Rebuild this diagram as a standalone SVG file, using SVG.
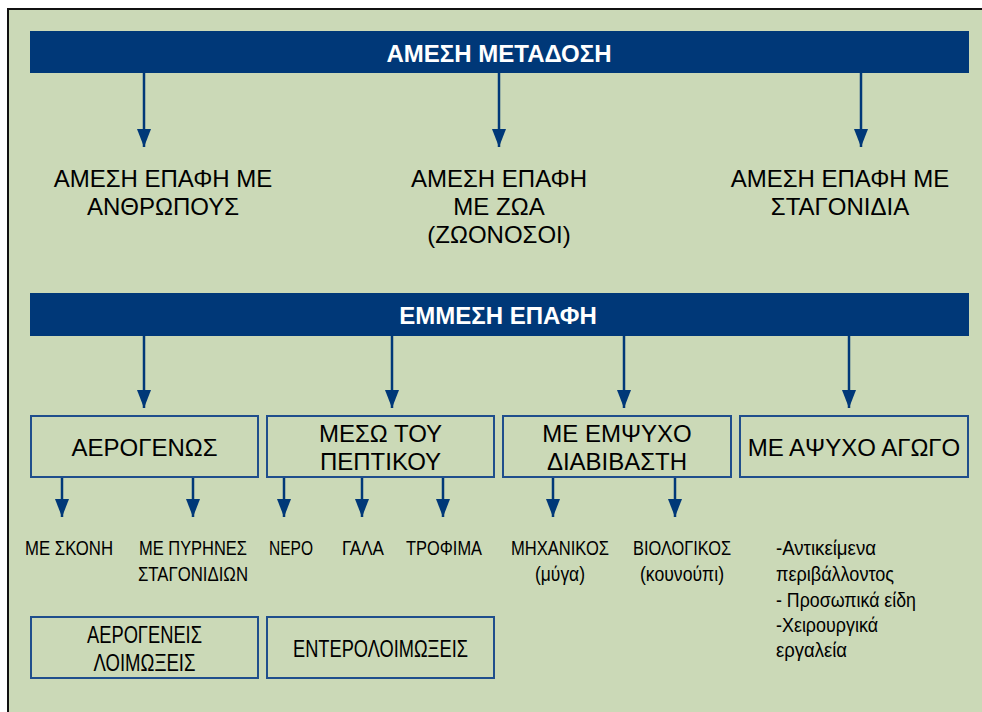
<svg xmlns="http://www.w3.org/2000/svg" width="982" height="712" viewBox="0 0 982 712">
  <defs>
    <marker id="ah" markerUnits="userSpaceOnUse" markerWidth="18" markerHeight="14" refX="18" refY="7" orient="auto" viewBox="0 0 18 14">
      <path d="M0,0 L18,7 L0,14 z" fill="#003878"/>
    </marker>
  </defs>
  <style>
    .bg { fill: #CBD9B7; stroke: #111; stroke-width: 2; }
    .bar { fill: #003878; }
    .title { font-family: "Liberation Sans", Arial, sans-serif; font-weight: bold; font-size: 24px; fill: #fff; text-anchor: middle; }
    .t24 { font-family: "Liberation Sans", Arial, sans-serif; font-size: 24px; fill: #000; text-anchor: middle; }
    .box { fill: none; stroke: #1F4E8C; stroke-width: 2; }
    .n20 { font-family: "Liberation Sans", Arial, sans-serif; font-size: 21px; fill: #000; text-anchor: middle; }
    .l20 { font-family: "Liberation Sans", Arial, sans-serif; font-size: 21px; fill: #000; text-anchor: start; }
    .n22 { font-family: "Liberation Sans", Arial, sans-serif; font-size: 23px; fill: #000; text-anchor: middle; }
    .conn line { stroke: #003878; stroke-width: 2.5; marker-end: url(#ah); }
  </style>
  <rect x="0" y="0" width="982" height="712" fill="#fff"/>
  <rect class="bg" x="8" y="9" width="990" height="720"/>

  <g id="connectors" class="conn">
    <line x1="144" y1="73" x2="144" y2="147"/>
    <line x1="499" y1="73" x2="499" y2="147"/>
    <line x1="861" y1="73" x2="861" y2="147"/>
    <line x1="144" y1="336" x2="144" y2="408"/>
    <line x1="392" y1="336" x2="392" y2="408"/>
    <line x1="624" y1="336" x2="624" y2="408"/>
    <line x1="849" y1="336" x2="849" y2="408"/>
    <line x1="62" y1="477" x2="62" y2="517"/>
    <line x1="193" y1="477" x2="193" y2="517"/>
    <line x1="284" y1="477" x2="284" y2="517"/>
    <line x1="362" y1="477" x2="362" y2="517"/>
    <line x1="443" y1="477" x2="443" y2="517"/>
    <line x1="553" y1="477" x2="553" y2="517"/>
    <line x1="675" y1="477" x2="675" y2="517"/>
  </g>

  <g id="amesi-metadosi">
    <rect class="bar" x="30" y="31" width="939" height="42"/>
    <text class="title" x="499" y="62">ΑΜΕΣΗ ΜΕΤΑΔΟΣΗ</text>
  </g>
  <g id="epafi-anthropous">
    <text class="t24" x="163" y="187">ΑΜΕΣΗ ΕΠΑΦΗ ΜΕ</text>
    <text class="t24" x="163" y="215">ΑΝΘΡΩΠΟΥΣ</text>
  </g>
  <g id="epafi-zoa">
    <text class="t24" x="499" y="187">ΑΜΕΣΗ ΕΠΑΦΗ</text>
    <text class="t24" x="499" y="215">ΜΕ ΖΩΑ</text>
    <text class="t24" x="499" y="243">(ΖΩΟΝΟΣΟΙ)</text>
  </g>
  <g id="epafi-stagonidia">
    <text class="t24" x="840" y="187">ΑΜΕΣΗ ΕΠΑΦΗ ΜΕ</text>
    <text class="t24" x="840" y="215">ΣΤΑΓΟΝΙΔΙΑ</text>
  </g>

  <g id="emmesi-epafi">
    <rect class="bar" x="30" y="293" width="939" height="43"/>
    <text class="title" x="498" y="324">ΕΜΜΕΣΗ ΕΠΑΦΗ</text>
  </g>

  <g id="aerogenos">
    <rect class="box" x="31" y="416" width="227" height="61"/>
    <text class="t24" x="144.5" y="456">ΑΕΡΟΓΕΝΩΣ</text>
  </g>
  <g id="meso-peptikou">
    <rect class="box" x="267" y="416" width="227" height="61"/>
    <text class="t24" x="380.5" y="442">ΜΕΣΩ ΤΟΥ</text>
    <text class="t24" x="380.5" y="470">ΠΕΠΤΙΚΟΥ</text>
  </g>
  <g id="empsyxo-diavivasti">
    <rect class="box" x="503" y="416" width="228" height="61"/>
    <text class="t24" x="617" y="442">ΜΕ ΕΜΨΥΧΟ</text>
    <text class="t24" x="617" y="470">ΔΙΑΒΙΒΑΣΤΗ</text>
  </g>
  <g id="apsyxo-agogo">
    <rect class="box" x="740" y="416" width="228" height="61"/>
    <text class="t24" x="854" y="456">ΜΕ ΑΨΥΧΟ ΑΓΩΓΟ</text>
  </g>

  <g id="me-skoni">
    <text class="n20" x="69" y="555" textLength="88" lengthAdjust="spacingAndGlyphs">ΜΕ ΣΚΟΝΗ</text>
  </g>
  <g id="pyrines-stagonidion">
    <text class="n20" x="193" y="555" textLength="108" lengthAdjust="spacingAndGlyphs">ΜΕ ΠΥΡΗΝΕΣ</text>
    <text class="n20" x="193" y="581" textLength="110" lengthAdjust="spacingAndGlyphs">ΣΤΑΓΟΝΙΔΙΩΝ</text>
  </g>
  <g id="nero">
    <text class="n20" x="291" y="555" textLength="44" lengthAdjust="spacingAndGlyphs">ΝΕΡΟ</text>
  </g>
  <g id="gala">
    <text class="n20" x="363" y="555" textLength="42" lengthAdjust="spacingAndGlyphs">ΓΑΛΑ</text>
  </g>
  <g id="trofima">
    <text class="n20" x="444" y="555" textLength="76" lengthAdjust="spacingAndGlyphs">ΤΡΟΦΙΜΑ</text>
  </g>
  <g id="mixanikos">
    <text class="n20" x="560" y="555" textLength="98" lengthAdjust="spacingAndGlyphs">ΜΗΧΑΝΙΚΟΣ</text>
    <text class="n20" x="560" y="581" textLength="50" lengthAdjust="spacingAndGlyphs">(μύγα)</text>
  </g>
  <g id="viologikos">
    <text class="n20" x="682" y="555" textLength="98" lengthAdjust="spacingAndGlyphs">ΒΙΟΛΟΓΙΚΟΣ</text>
    <text class="n20" x="682" y="581" textLength="84" lengthAdjust="spacingAndGlyphs">(κουνούπι)</text>
  </g>
  <g id="apsyxa-list">
    <text class="l20" x="776" y="555" textLength="100" lengthAdjust="spacingAndGlyphs">-Αντικείμενα</text>
    <text class="l20" x="776" y="581" textLength="118" lengthAdjust="spacingAndGlyphs">περιβάλλοντος</text>
    <text class="l20" x="776" y="607" textLength="140" lengthAdjust="spacingAndGlyphs">- Προσωπικά είδη</text>
    <text class="l20" x="776" y="632" textLength="102" lengthAdjust="spacingAndGlyphs">-Χειρουργικά</text>
    <text class="l20" x="776" y="657" textLength="71" lengthAdjust="spacingAndGlyphs">εργαλεία</text>
  </g>

  <g id="aerogeneis-loimoxeis">
    <rect class="box" x="31" y="617" width="227" height="61"/>
    <text class="n22" x="144.5" y="643" textLength="115" lengthAdjust="spacingAndGlyphs">ΑΕΡΟΓΕΝΕΙΣ</text>
    <text class="n22" x="144.5" y="671" textLength="102" lengthAdjust="spacingAndGlyphs">ΛΟΙΜΩΞΕΙΣ</text>
  </g>
  <g id="enteroloimoxeis">
    <rect class="box" x="267" y="617" width="227" height="61"/>
    <text class="n22" x="380.5" y="657" textLength="175" lengthAdjust="spacingAndGlyphs">ΕΝΤΕΡΟΛΟΙΜΩΞΕΙΣ</text>
  </g>
</svg>
